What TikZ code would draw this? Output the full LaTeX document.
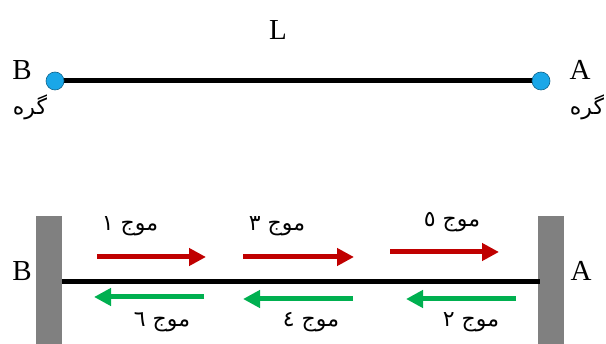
\documentclass[tikz,border=0pt]{standalone}
\usepackage{fontspec}
\setmainfont{Liberation Serif}
\newfontfamily\arabicfont[Script=Arabic]{DejaVu Sans}
\TeXXeTstate=1
\usetikzlibrary{arrows.meta}
\definecolor{nodeblue}{HTML}{1AA7E8}
\definecolor{wred}{HTML}{C00000}
\definecolor{wgreen}{HTML}{00B050}
\tikzset{
  pt/.style={circle,fill=nodeblue,draw=nodeblue!60!black,line width=0.6pt,minimum size=18pt,inner sep=0pt},
  lab/.style={font=\fontsize{29}{32}\selectfont,inner sep=0pt},
  alab/.style={font=\arabicfont\fontsize{22}{25}\selectfont,inner sep=0pt},
  wall/.style={fill=black!50,draw=none},
  redarrow/.style={wred,line width=5pt,-{Triangle[length=17pt,width=17pt]}},
  greenarrow/.style={wgreen,line width=5pt,-{Triangle[length=17pt,width=17pt]}},
  str/.style={line width=5pt,black}
}
\begin{document}
\begin{tikzpicture}[x=1pt,y=-1pt]
\useasboundingbox (0,0) rectangle (606,344);
% top
\node[lab] (L) at (278,30) {L};
\draw[str] (55,81) coordinate (bL) -- (541,81) coordinate (aL);
\node[pt] (B1) at (55,81) {};
\node[pt] (A1) at (541,81) {};
\node[lab] (Bt) at (22,70) {B};
\node[lab] (At) at (580,70) {A};
\node[alab] (gB) at (30,107) {\beginR گره\endR};
\node[alab] (gA) at (587,107) {\beginR گره\endR};
% bottom
\fill[wall] (36,216) rectangle (62,344);
\fill[wall] (538,216) rectangle (564,344);
\coordinate (wl) at (62,282);
\coordinate (wr) at (540,282);
\draw[str] (wl) -- (wr);
\node[lab] (Bb) at (22,271) {B};
\node[lab] (Ab) at (581,271) {A};
% red arrows
\coordinate (r1s) at (97,257); \coordinate (r1e) at (206,257);
\coordinate (r3s) at (243,257); \coordinate (r3e) at (354,257);
\coordinate (r5s) at (390,252); \coordinate (r5e) at (499,252);
\draw[redarrow] (r1s) -- (r1e);
\draw[redarrow] (r3s) -- (r3e);
\draw[redarrow] (r5s) -- (r5e);
% green arrows
\coordinate (g6s) at (204,297); \coordinate (g6e) at (94,297);
\coordinate (g4s) at (353,299); \coordinate (g4e) at (243,299);
\coordinate (g2s) at (516,299); \coordinate (g2e) at (406,299);
\draw[greenarrow] (g6s) -- (g6e);
\draw[greenarrow] (g4s) -- (g4e);
\draw[greenarrow] (g2s) -- (g2e);
% labels
\node[alab] (w1) at (130,226) {\beginR موج ١\endR};
\node[alab] (w3) at (277,226) {\beginR موج ٣\endR};
\node[alab] (w5) at (452,222) {\beginR موج ٥\endR};
\node[alab] (w6) at (162,322) {\beginR موج ٦\endR};
\node[alab] (w4) at (311,322) {\beginR موج ٤\endR};
\node[alab] (w2) at (471,322) {\beginR موج ٢\endR};
\end{tikzpicture}
\end{document}
